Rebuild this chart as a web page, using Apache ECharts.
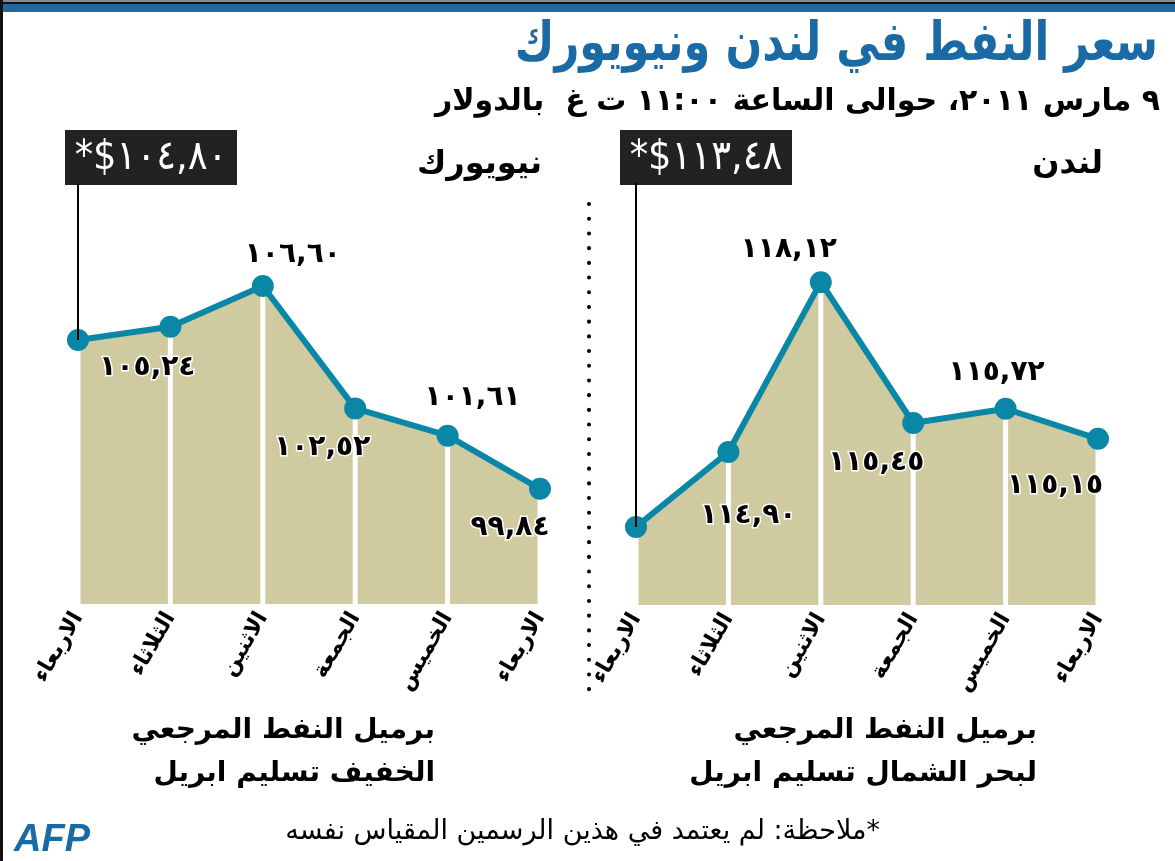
<html>
<head>
    <meta charset="utf-8" />
    <script src="https://cdn.jsdelivr.net/npm/echarts@6/dist/echarts.min.js"></script>
    <style>
        body { margin: 0; background: #fff; }
    </style>
</head>
<body>
    <div id="main" style="width:1175px;height:861px;"></div>
    <script>
        // chronological order (oldest first), axis is inverted so it reads right to left
        var days = ['الاربعاء', 'الخميس', 'الجمعة', 'الاثنين', 'الثلاثاء', 'الاربعاء'];
        var newYork = [99.84, 101.61, 102.52, 106.60, 105.24, 104.80];
        var london = [115.15, 115.72, 115.45, 118.12, 114.90, 113.48];
        var nyRange = [96, 110];
        var ldRange = [112, 120];

        var FILL = '#cfcaa0';
        var LINE = '#0a87a6';
        var AR_FONT = '"DejaVu Sans", sans-serif';

        function arNum(v) {
            return v.toFixed(2).replace('.', ',').replace(/[0-9]/g, function (d) {
                return '٠١٢٣٤٥٦٧٨٩'[d];
            });
        }

        // label offsets around each point (last point gets the black box instead)
        var nyOffsets = [[-30, 39], [25, -38], [-33, 39], [30, -31], [-23, 41]];
        var ldOffsets = [[-43, 47], [-9, -36], [-37, 40], [-32, -32], [20, 64]];

        function pointData(values, offsets) {
            return values.map(function (v, i) {
                var item = { value: v };
                if (offsets[i]) {
                    item.label = { show: true, offset: offsets[i] };
                }
                return item;
            });
        }

        function seriesFor(idx, values, offsets, range) {
            var last = values.length - 1;
            return [
                {
                    type: 'line', xAxisIndex: idx, yAxisIndex: idx,
                    data: values, symbol: 'none', z: 1,
                    lineStyle: { width: 0 },
                    areaStyle: { color: FILL, opacity: 1 },
                    markLine: {
                        silent: true, symbol: 'none',
                        lineStyle: { color: '#000', width: 2, type: 'solid' },
                        label: { show: false },
                        data: [[{ coord: [last, values[last]] }, { coord: [last, range[1]] }]]
                    }
                },
                {
                    type: 'bar', xAxisIndex: idx, yAxisIndex: idx,
                    data: values, barWidth: 5, z: 2,
                    itemStyle: { color: '#fff' }
                },
                {
                    type: 'line', xAxisIndex: idx, yAxisIndex: idx, z: 3,
                    data: pointData(values, offsets),
                    symbol: 'circle', symbolSize: 22,
                    lineStyle: { color: LINE, width: 6 },
                    itemStyle: { color: LINE },
                    label: {
                        show: false, position: 'inside',
                        formatter: function (p) { return arNum(p.value); },
                        color: '#000', fontFamily: AR_FONT, fontWeight: 'bold', fontSize: 28,
                        textBorderColor: '#fff', textBorderWidth: 3
                    }
                }
            ];
        }

        function xAxisFor(idx) {
            return {
                type: 'category', gridIndex: idx, data: days, inverse: true,
                boundaryGap: false,
                axisLine: { show: false }, axisTick: { show: false },
                splitLine: { show: false },
                axisLabel: {
                    rotate: 60, margin: 10, color: '#000',
                    fontFamily: AR_FONT, fontWeight: 'bold', fontSize: 22
                }
            };
        }

        function yAxisFor(idx, range) {
            return {
                type: 'value', gridIndex: idx, min: range[0], max: range[1],
                show: false, splitLine: { show: false }
            };
        }

        function arText(x, y, text, size, weight, color, sx) {
            return {
                type: 'text', x: x, y: y, scaleX: sx || 1,
                style: {
                    text: text, fill: color || '#000',
                    font: (weight || 'bold') + ' ' + size + 'px ' + AR_FONT,
                    textAlign: 'right', textVerticalAlign: 'middle'
                }
            };
        }

        function valueBox(left, value) {
            return {
                type: 'group', left: left, top: 130,
                children: [
                    { type: 'rect', shape: { x: 0, y: 0, width: 172, height: 55 }, style: { fill: '#222' } },
                    {
                        type: 'text', x: 86, y: 28,
                        style: {
                            text: '*$' + arNum(value), fill: '#fff',
                            font: '41px "DejaVu Sans Condensed", "DejaVu Sans", sans-serif',
                            textAlign: 'center', textVerticalAlign: 'middle'
                        }
                    }
                ]
            };
        }

        var myChart = echarts.init(document.getElementById('main'));
        var option = {
            animation: false,
            backgroundColor: '#fff',
            grid: [
                { left: 78, width: 462, top: 184, height: 420 },
                { left: 636, width: 462, top: 183, height: 422 }
            ],
            xAxis: [xAxisFor(0), xAxisFor(1)],
            yAxis: [yAxisFor(0, nyRange), yAxisFor(1, ldRange)],
            series: seriesFor(0, newYork, nyOffsets, nyRange).concat(seriesFor(1, london, ldOffsets, ldRange)),
            graphic: [
                // frame
                { type: 'rect', left: 0, top: 0, shape: { width: 1175, height: 2 }, style: { fill: '#8a8a8a' } },
                { type: 'rect', left: 0, top: 2, shape: { width: 1175, height: 2 }, style: { fill: '#111' } },
                { type: 'rect', left: 0, top: 4, shape: { width: 1175, height: 8 }, style: { fill: '#1f69a0' } },
                { type: 'rect', left: 0, top: 0, shape: { width: 3, height: 861 }, style: { fill: '#111' } },
                // separator
                {
                    type: 'line', shape: { x1: 589, y1: 204, x2: 589, y2: 692 },
                    style: { stroke: '#000', lineWidth: 4, lineCap: 'round', lineDash: [0.1, 14.6] }
                },
                arText(1158, 46, 'سعر النفط في لندن ونيويورك', 54, 'bold', '#1a6aa5', 0.8),
                arText(1160, 102, '٩ مارس ٢٠١١، حوالى الساعة ١١:٠٠ ت غ  بالدولار', 30),
                arText(1103, 165, 'لندن', 32),
                arText(542, 165, 'نيويورك', 32),
                valueBox(65, newYork[newYork.length - 1]),
                valueBox(620, london[london.length - 1]),
                arText(1037, 731, 'برميل النفط المرجعي', 28, 'bold'),
                arText(1037, 774, 'لبحر الشمال تسليم ابريل', 28, 'bold'),
                arText(435, 731, 'برميل النفط المرجعي', 28, 'bold'),
                arText(435, 774, 'الخفيف تسليم ابريل', 28, 'bold'),
                arText(880, 832, 'ملاحظة: لم يعتمد في هذين الرسمين المقياس نفسه*', 27, 'normal'),
                {
                    type: 'text', left: 14, top: 822,
                    style: {
                        text: 'AFP', fill: '#1a6aa5',
                        font: 'italic bold 38px "Liberation Sans", sans-serif'
                    }
                }
            ]
        };
        myChart.setOption(option);
    </script>
</body>
</html>
